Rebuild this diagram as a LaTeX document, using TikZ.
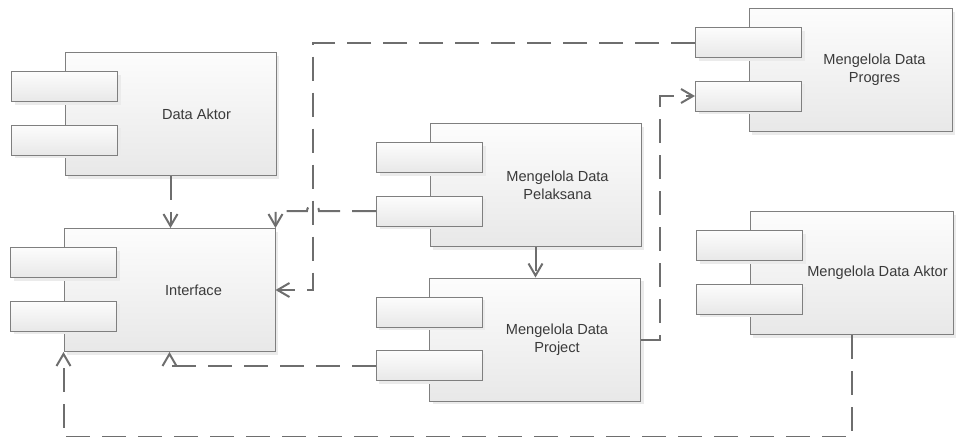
\documentclass[tikz,border=0pt]{standalone}
\usepackage{fontspec}
\setmainfont{Liberation Sans}
\usepackage{xcolor}
\usepackage{tikz}
\usetikzlibrary{arrows.meta,shadows}
\definecolor{garis}{HTML}{6E6E6E}
\definecolor{tepi}{HTML}{7F7F7F}
\definecolor{teks}{HTML}{3A3A3A}

\begin{document}
\begin{tikzpicture}[x=0.5pt,y=-0.5pt,
    komponen/.style={draw=tepi, line width=0.5pt, top color=black!1, bottom color=black!9,
        minimum width=105.5pt, minimum height=61.5pt, inner sep=0pt,
        drop shadow={shadow xshift=1.5pt, shadow yshift=-1.5pt, fill=black!8, opacity=1}},
    port/.style={komponen, minimum width=53pt, minimum height=15pt},
    judul/.style={font=\fontsize{7.3}{8.8}\selectfont, text=teks, align=center},
    alur/.style={draw=garis, line width=1pt, dash pattern=on 12pt off 6pt,
        -{Straight Barb[length=6pt,width=7pt]}}]
        \useasboundingbox (0,0) rectangle (956,436);
        % Draw the components
        \node[komponen] (aktor) at (170.5,114) {};
        \node[komponen] (iface) at (169.5,290) {};
        \node[komponen] (pelaksana) at (535.5,185) {};
        \node[komponen] (project) at (535,339.5) {};
        \node[komponen, minimum width=101.5pt] (progres) at (850.5,70) {};
        \node[komponen, minimum width=101.5pt] (maktor) at (851.5,273) {};
        % Draw the ports
        \foreach \k in {aktor,iface,pelaksana,project,progres,maktor} {
            \node[port] (\k-p1) at ([yshift=13.75pt]\k.west) {};
            \node[port] (\k-p2) at ([yshift=-13pt]\k.west) {};
        }
        % Draw the labels
        \node[judul] (aktor-t) at ([xshift=13pt]aktor.center) {Data Aktor};
        \node[judul] (iface-t) at ([xshift=12pt]iface.center) {Interface};
        \node[judul] (pelaksana-t) at ([xshift=11pt]pelaksana.center) {Mengelola Data\\Pelaksana};
        \node[judul] (project-t) at ([xshift=11pt]project.center) {Mengelola Data\\Project};
        \node[judul] (progres-t) at ([xshift=12pt]progres.center) {Mengelola Data\\Progres};
        \node[judul] (maktor-t) at ([xshift=13pt]maktor.center) {Mengelola Data Aktor};
        % Draw arrows
        \coordinate (siku) at (313,200);
        \draw[alur] (aktor.south) -- (aktor.south |- iface.north);
        \draw[alur] (progres-p1.west) -| (siku) |- (iface.east);
        \draw[alur] (pelaksana-p2.west) -- ([xshift=3pt]pelaksana-p2.west -| siku)
            arc[start angle=0, end angle=180, radius=3pt]
            -- (pelaksana-p2.west -| iface.north east) -- (iface.north east);
        \draw[alur] (pelaksana.south) -- (pelaksana.south |- project.north);
        \draw[alur] (project.east) -- ++(9.5pt,0) |- (progres-p2.west);
        \draw[alur] (project-p2.west) -| (iface.south);
        \draw[alur] (maktor.south) -- ++(0,-51.2pt) -| (iface.south west);
        \end{tikzpicture}
\end{document}
